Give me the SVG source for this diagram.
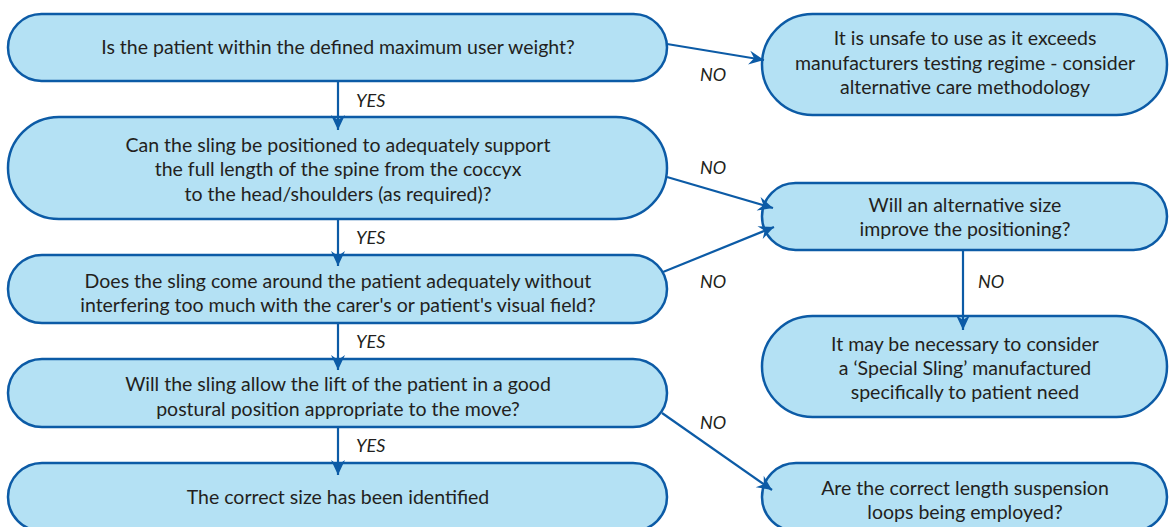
<svg xmlns="http://www.w3.org/2000/svg" width="1169" height="527" viewBox="0 0 1169 527">
  <style>
    .box { fill: #b4e1f4; stroke: #0c5ba6; stroke-width: 2.5; }
    .t { font-family: Lato, "Open Sans", "Liberation Sans", sans-serif; font-size: 19.5px; fill: #231f20; text-anchor: middle; }
    .lbl { font-family: Lato, "Open Sans", "Liberation Sans", sans-serif; font-size: 18px; font-style: italic; fill: #231f20; }
    .edge { stroke: #0c5ba6; stroke-width: 2.2; fill: none; marker-end: url(#arrow); }
  </style>
  <defs>
    <marker id="arrow" markerUnits="userSpaceOnUse" viewBox="-16 -8 18 16" refX="0" refY="0" markerWidth="18" markerHeight="16" orient="auto">
      <path d="M0,0 L-15,-7 L-10,0 L-15,7 Z" fill="#0c5ba6"/>
    </marker>
  </defs>
  <rect width="1169" height="527" fill="#ffffff"/>

  <!-- left column: decision steps -->
  <g id="n1">
    <rect class="box" x="8" y="14" width="659" height="67" rx="33.5"/>
    <text class="t" x="338" y="54">Is the patient within the defined maximum user weight?</text>
  </g>
  <g id="n2">
    <rect class="box" x="8" y="117" width="659" height="102" rx="51"/>
    <text class="t" x="338" y="152">Can the sling be positioned to adequately support</text>
    <text class="t" x="338" y="176">the full length of the spine from the coccyx</text>
    <text class="t" x="338" y="201">to the head/shoulders (as required)?</text>
  </g>
  <g id="n3">
    <rect class="box" x="8" y="255" width="659" height="68" rx="34"/>
    <text class="t" x="338" y="288">Does the sling come around the patient adequately without</text>
    <text class="t" x="338" y="312">interfering too much with the carer's or patient's visual field?</text>
  </g>
  <g id="n4">
    <rect class="box" x="8" y="359" width="659" height="68" rx="34"/>
    <text class="t" x="338" y="391">Will the sling allow the lift of the patient in a good</text>
    <text class="t" x="338" y="416">postural position appropriate to the move?</text>
  </g>
  <g id="n5">
    <rect class="box" x="8" y="463" width="659" height="68" rx="34"/>
    <text class="t" x="338" y="504">The correct size has been identified</text>
  </g>

  <!-- right column: outcomes -->
  <g id="r1">
    <rect class="box" x="762" y="14" width="405" height="101" rx="50.5"/>
    <text class="t" x="965" y="45">It is unsafe to use as it exceeds</text>
    <text class="t" x="965" y="70">manufacturers testing regime - consider</text>
    <text class="t" x="965" y="94">alternative care methodology</text>
  </g>
  <g id="r2">
    <rect class="box" x="762" y="183" width="405" height="67" rx="33.5"/>
    <text class="t" x="965" y="212">Will an alternative size</text>
    <text class="t" x="965" y="236">improve the positioning?</text>
  </g>
  <g id="r3">
    <rect class="box" x="762" y="316" width="405" height="101" rx="50.5"/>
    <text class="t" x="965" y="351">It may be necessary to consider</text>
    <text class="t" x="965" y="375">a ‘Special Sling’ manufactured</text>
    <text class="t" x="965" y="399">specifically to patient need</text>
  </g>
  <g id="r4">
    <rect class="box" x="762" y="463" width="405" height="68" rx="34"/>
    <text class="t" x="965" y="495">Are the correct length suspension</text>
    <text class="t" x="965" y="519">loops being employed?</text>
  </g>

  <!-- connectors -->
  <g id="connectors">
    <path class="edge" d="M338,81 L338,130"/>
    <path class="edge" d="M338,219 L338,266"/>
    <path class="edge" d="M338,323 L338,370"/>
    <path class="edge" d="M338,427 L338,475"/>
    <path class="edge" d="M667,44 L764,60"/>
    <path class="edge" d="M667,177 L773,208"/>
    <path class="edge" d="M663,272 L774,227"/>
    <path class="edge" d="M963,250 L963,330"/>
    <path class="edge" d="M662,413 L772,490"/>

    <text class="lbl" x="356" y="107">YES</text>
    <text class="lbl" x="356" y="244">YES</text>
    <text class="lbl" x="356" y="348">YES</text>
    <text class="lbl" x="356" y="452">YES</text>
    <text class="lbl" x="700" y="81">NO</text>
    <text class="lbl" x="700" y="174">NO</text>
    <text class="lbl" x="700" y="288">NO</text>
    <text class="lbl" x="978" y="288">NO</text>
    <text class="lbl" x="700" y="429">NO</text>
  </g>
</svg>
